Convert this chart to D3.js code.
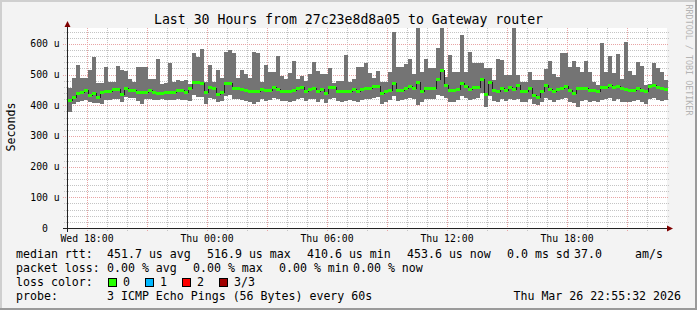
<!DOCTYPE html>
<html>
<head>
<meta charset="utf-8">
<script src="https://cdn.jsdelivr.net/npm/d3@7/dist/d3.min.js"></script>
<style>
  body { margin:0; background:#fff; }
  svg text { font-family:"DejaVu Sans Mono", monospace; fill:#000; }
</style>
</head>
<body>
<div id="chart"></div>
<script>
// chart text
var title = "Last 30 Hours from 27c23e8d8a05 to Gateway router";
var yAxisTitle = "Seconds";
var yTicks = [0, 100, 200, 300, 400, 500, 600];
var xLabelTimes = ["2026-03-25T18:00", "2026-03-26T00:00", "2026-03-26T06:00", "2026-03-26T12:00", "2026-03-26T18:00"];
var xLabels = ["Wed 18:00", "Thu 00:00", "Thu 06:00", "Thu 12:00", "Thu 18:00"];

// time window and consolidation step (minutes)
var tStart = new Date(2026, 2, 25, 17, 0);
var tEnd = new Date(2026, 2, 26, 23, 0);
var firstBarMin = 3, stepMin = 12;

// rtt per 12 min bucket, microseconds
var rttMax = [458,488,531,488,488,515,559,472,472,526,477,477,528,515,513,485,477,526,526,526,
              485,487,550,470,472,537,477,483,479,483,468,572,559,583,477,531,477,515,488,575,
              581,570,488,515,501,488,573,570,477,531,507,507,561,494,485,505,545,485,494,480,
              501,541,513,501,501,520,474,480,480,565,477,485,526,526,539,505,488,512,477,477,
              509,640,526,526,535,550,502,651,507,550,521,521,586,651,491,564,510,507,629,510,
              575,537,537,537,521,521,483,550,548,499,499,651,499,477,477,507,483,481,483,517,
              546,502,491,570,570,526,546,524,507,546,507,477,466,602,507,561,504,567,485,606,
              513,499,542,528,466,470,539,521,510,483];
var rttMed = [418,428,439,444,450,434,440,428,444,447,447,452,452,437,455,450,450,442,442,442,
              449,442,439,439,444,444,444,450,450,444,455,477,477,472,442,459,455,437,444,474,
              474,455,455,452,450,445,445,447,453,450,450,461,453,448,448,445,450,458,461,447,
              454,455,447,454,439,459,460,448,447,447,447,452,447,453,458,455,463,463,441,448,
              450,472,450,450,455,463,455,477,445,455,455,455,485,515,466,450,450,454,474,463,
              454,459,461,486,437,477,450,448,455,450,459,452,466,445,445,457,434,428,445,466,
              452,445,452,457,463,450,441,457,455,455,450,450,448,461,461,466,459,463,455,452,
              450,450,455,450,445,463,466,459,455,452];
var rttMin = [378,405,412,414,417,410,406,408,405,417,417,420,420,410,426,423,423,415,405,420,
              420,417,417,420,417,417,417,420,417,417,415,434,428,428,405,425,422,410,415,430,
              432,420,420,418,415,410,405,412,420,415,418,425,420,415,415,410,415,422,425,415,
              420,420,412,420,408,420,425,415,412,415,418,415,412,418,420,420,425,428,405,412,
              418,430,415,418,420,425,420,402,412,420,420,420,432,430,425,410,412,418,430,425,
              418,422,425,440,396,430,415,412,420,415,422,418,420,412,410,420,405,400,410,425,
              418,412,418,420,425,412,408,395,415,418,412,415,412,418,420,425,415,420,410,412,
              412,415,418,410,405,420,425,418,415,418];

var legendRtt = [["median rtt:", 16], ["451.7 us avg", 107], ["516.9 us max", 207], ["410.6 us min", 307],
                 ["453.6 us now", 407], ["0.0 ms sd", 507], ["37.0", 574], ["am/s", 635]];
var legendLoss = [["packet loss:", 16], ["0.00 % avg", 107], ["0.00 % max", 193], ["0.00 % min", 279], ["0.00 % now", 353]];
var lossLabels = ["0", "1", "2", "3/3"];
var lossColors = ["#26ff00", "#00b8ff", "#ff0000", "#a00000"];
var probeText = "3 ICMP Echo Pings (56 Bytes) every 60s";
var stampText = "Thu Mar 26 22:55:32 2026";

var W = 697, H = 310;
var svg = d3.select("#chart").append("svg").attr("width", W).attr("height", H);

// frame, rrdtool style shading
svg.append("rect").attr("width", W).attr("height", H).attr("fill", "#f3f3f3");
svg.append("path").attr("d", "M0,0H" + W + "V2H2V" + H + "H0Z").attr("fill", "#cfcfcf");
svg.append("path").attr("d", "M" + W + "," + H + "H0V" + (H - 2) + "H" + (W - 2) + "V0H" + W + "Z").attr("fill", "#9a9a9a");

var x = d3.scaleTime().domain([tStart, tEnd]).range([67, 667]);
var y = d3.scaleLinear().domain([0, 652]).range([228, 28]);

svg.append("rect").attr("x", 67).attr("y", 28).attr("width", 600).attr("height", 200).attr("fill", "#fff");

// grid
var g = svg.append("g").attr("shape-rendering", "crispEdges");
var minorY = d3.range(20, 652, 20).filter(function(v){ return v % 100 != 0; });
g.selectAll("line.ym").data(minorY).join("line")
  .attr("x1", 64).attr("x2", 669).attr("y1", function(d){ return Math.round(y(d)) + 0.5; }).attr("y2", function(d){ return Math.round(y(d)) + 0.5; })
  .attr("stroke", "#c4c4c4").attr("stroke-dasharray", "1,1");
var hours = d3.timeHour.range(d3.timeHour.offset(tStart, 1), d3.timeHour.offset(tEnd, 0));
g.selectAll("line.xm").data(hours.filter(function(d){ return d.getHours() % 3 != 0; })).join("line")
  .attr("x1", function(d){ return Math.round(x(d)) + 0.5; }).attr("x2", function(d){ return Math.round(x(d)) + 0.5; })
  .attr("y1", 28).attr("y2", 231)
  .attr("stroke", "#c4c4c4").attr("stroke-dasharray", "1,1");
g.selectAll("line.yM").data(yTicks.slice(1)).join("line")
  .attr("x1", 63).attr("x2", 669).attr("y1", function(d){ return Math.round(y(d)) + 0.5; }).attr("y2", function(d){ return Math.round(y(d)) + 0.5; })
  .attr("stroke", "#e8a4a4").attr("stroke-dasharray", "1,1");
g.selectAll("line.xM").data(hours.filter(function(d){ return d.getHours() % 3 == 0; })).join("line")
  .attr("x1", function(d){ return Math.round(x(d)) + 0.5; }).attr("x2", function(d){ return Math.round(x(d)) + 0.5; })
  .attr("y1", 28).attr("y2", 232)
  .attr("stroke", "#e8a4a4").attr("stroke-dasharray", "1,1");

// smoke: min..max per bucket
function barT(i) { return d3.timeMinute.offset(tStart, firstBarMin + stepMin * i); }
svg.append("g").attr("shape-rendering", "crispEdges").selectAll("rect").data(rttMax).join("rect")
  .attr("x", function(d, i){ return x(barT(i)); })
  .attr("width", function(d, i){ return x(barT(i + 1)) - x(barT(i)); })
  .attr("y", function(d){ return y(d); })
  .attr("height", function(d, i){ return y(rttMin[i]) - y(d); })
  .attr("fill", "#747474");

// median: dark step line, green loss colour on top
var medPts = rttMed.map(function(d, i){ return [barT(i), d]; });
medPts.push([barT(rttMed.length), rttMed[rttMed.length - 1]]);
svg.append("path")
  .attr("d", d3.line().x(function(d){ return x(d[0]); }).y(function(d){ return Math.round(y(d[1])) + 0.5; }).curve(d3.curveStepAfter)(medPts))
  .attr("fill", "none").attr("stroke", "#202020").attr("stroke-width", 1).attr("shape-rendering", "crispEdges");
svg.append("g").attr("shape-rendering", "crispEdges").selectAll("rect").data(rttMed).join("rect")
  .attr("x", function(d, i){ return x(barT(i)); })
  .attr("width", function(d, i){ return x(barT(i + 1)) - x(barT(i)); })
  .attr("y", function(d){ return Math.round(y(d)) - 1; })
  .attr("height", 3)
  .attr("fill", lossColors[0]);

// axes
var ax = svg.append("g").attr("shape-rendering", "crispEdges");
ax.append("line").attr("x1", 63).attr("x2", 670).attr("y1", 228.5).attr("y2", 228.5).attr("stroke", "#222");
ax.append("line").attr("x1", 67.5).attr("x2", 67.5).attr("y1", 232).attr("y2", 25).attr("stroke", "#222");
svg.append("path").attr("d", "M667,225.5L673,228.5L667,231.5Z").attr("fill", "#7f0000");
svg.append("path").attr("d", "M64.5,27L67.5,21L70.5,27Z").attr("fill", "#7f0000");

svg.append("g").selectAll("text").data(yTicks).join("text")
  .attr("x", 45).attr("y", function(d){ return y(d) + 3.5; })
  .attr("text-anchor", "middle").attr("font-size", "9.8px")
  .text(function(d){ return d == 0 ? "0" : d + " u"; });
svg.append("g").selectAll("text").data(xLabelTimes).join("text")
  .attr("x", function(d){ return x(new Date(d)); }).attr("y", 241.5)
  .attr("text-anchor", "middle").attr("font-size", "9.8px")
  .text(function(d, i){ return xLabels[i]; });

svg.append("text").attr("x", 348.5).attr("y", 24).attr("text-anchor", "middle").attr("font-size", "13.2px").text(title);
svg.append("text").attr("transform", "translate(15,127) rotate(-90)").attr("text-anchor", "middle")
  .attr("font-size", "11.6px").text(yAxisTitle);
svg.append("text").attr("transform", "translate(686,60) rotate(90)").attr("text-anchor", "middle")
  .attr("font-size", "8.4px").style("fill", "#b4b4b4").text("RRDTOOL / TOBI OETIKER");

// legend
var lg = svg.append("g").attr("font-size", "11.6px");
lg.selectAll("text.r").data(legendRtt).join("text").attr("x", function(d){ return d[1]; }).attr("y", 258).text(function(d){ return d[0]; });
lg.selectAll("text.l").data(legendLoss).join("text").attr("x", function(d){ return d[1]; }).attr("y", 272).text(function(d){ return d[0]; });
lg.append("text").attr("x", 16).attr("y", 286).text("loss color:");
var boxX = [108, 145, 182, 219];
lg.selectAll("rect").data(lossColors).join("rect")
  .attr("x", function(d, i){ return boxX[i] + 0.5; }).attr("y", 278.5).attr("width", 8).attr("height", 8)
  .attr("fill", function(d){ return d; }).attr("stroke", "#000").attr("shape-rendering", "crispEdges");
lg.selectAll("text.c").data(lossLabels).join("text")
  .attr("x", function(d, i){ return boxX[i] + 15; }).attr("y", 286).text(function(d){ return d; });
lg.append("text").attr("x", 16).attr("y", 300).text("probe:");
lg.append("text").attr("x", 107).attr("y", 300).text(probeText);
lg.append("text").attr("x", 681).attr("y", 300).attr("text-anchor", "end").text(stampText);
</script>
</body>
</html>
